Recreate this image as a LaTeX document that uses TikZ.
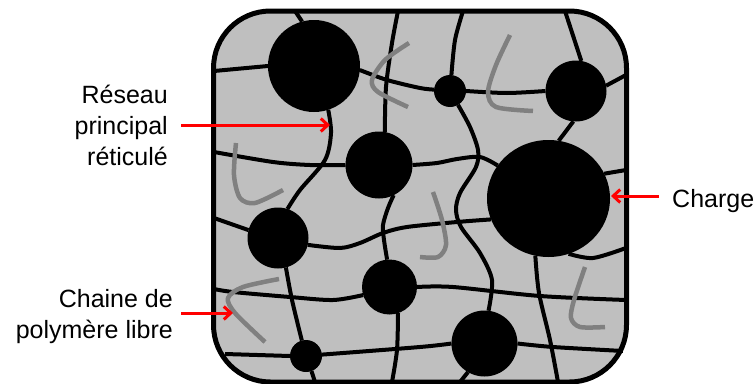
\documentclass[tikz,border=0pt]{standalone}
\usepackage{fontspec}
\setmainfont{Liberation Sans}
\usetikzlibrary{arrows.meta, shapes.geometric}

\tikzset{
    frame/.style={draw=black, fill=black!25, line width=5pt, rounded corners=57pt, minimum width=413pt, minimum height=371pt, inner sep=0pt},
    filler/.style={circle, fill=black, inner sep=0pt, outer sep=0pt, minimum size=#1},
    network/.style={draw=black, line width=4pt},
    freechain/.style={draw=black!50, line width=4.5pt},
    pointer/.style={draw=red, line width=3pt, -{Straight Barb[length=7pt, width=13pt, line width=3pt]}},
    caption/.style={align=right, inner sep=0pt, font=\fontsize{25}{31}\selectfont}
}

\begin{document}
\begin{tikzpicture}
            [x=1pt, y=-1pt]
            \useasboundingbox (0, 0) rectangle (755, 383);
            \node [frame] (box) at (420, 196.5) {};

            \node [filler=92pt] (a) at (314, 66) {};
            \node [filler=32pt] (b) at (450, 91) {};
            \node [filler=61pt] (c) at (576, 91) {};
            \node [ellipse, fill=black, inner sep=0pt, outer sep=0pt, minimum width=123pt, minimum height=117pt] (d) at (548.5, 198.5) {};
            \node [filler=67pt] (e) at (379, 165) {};
            \node [filler=61pt] (f) at (278, 238) {};
            \node [filler=55pt] (g) at (389.5, 287) {};
            \node [filler=66pt] (h) at (484.5, 343.5) {};
            \node [filler=32pt] (i) at (306, 356) {};

            \coordinate (top1) at (295, 11);
            \coordinate (top2) at (398, 11);
            \coordinate (top3) at (463, 11);
            \coordinate (top4) at (565, 11);
            \coordinate (left1) at (214, 71);
            \coordinate (left2) at (214, 152);
            \coordinate (left3) at (214, 218);
            \coordinate (left4) at (214, 289);
            \coordinate (left5) at (225, 354);
            \coordinate (right1) at (626, 75);
            \coordinate (right2) at (626, 170);
            \coordinate (right3) at (626, 248);
            \coordinate (right4) at (626, 300);
            \coordinate (right5) at (623, 351);
            \coordinate (bottom1) at (315, 382);
            \coordinate (bottom2) at (392, 382);
            \coordinate (bottom3) at (460, 382);
            \coordinate (bottom4) at (558, 382);

            \draw [network] (top1) -- (a.105);
            \draw [network] (left1) -- (a.180);
            \draw [network] plot [smooth] coordinates {(a.-5) (387, 80) (420, 88) (b.175)};
            \draw [network] plot [smooth] coordinates {(top2) (392, 43) (386, 87) (e.80)};
            \draw [network] plot [smooth] coordinates {(a.-72) (331, 133) (325, 160) (300, 190) (f.72)};
            \draw [network] plot [smooth] coordinates {(left2) (273, 162) (310, 165) (e.180)};
            \draw [network] plot [smooth] coordinates {(e.0) (437, 163) (457, 159) (480, 157) (d.147)};
            \draw [network] plot [smooth] coordinates {(top3) (455, 40) (b.85)};
            \draw [network] plot [smooth] coordinates {(b.0) (507, 93) (c.180)};
            \draw [network] plot [smooth] coordinates {(b.-60) (470, 127) (478, 150) (476, 167) (460, 193) (456, 210) (461, 227) (480, 253) (492, 280) (h.83)};
            \draw [network] (c.80) -- (top4);
            \draw [network] (c.10) -- (right1);
            \draw [network] (c.-95) -- (d.80);
            \draw [network] (d.24) -- (right2);
            \draw [network] plot [smooth] coordinates {(d.-70) (593, 258) (right3)};
            \draw [network] plot [smooth] coordinates {(d.-103) (539, 293) (550, 340) (bottom4)};
            \draw [network] plot [smooth] coordinates {(f.-13) (340, 248) (360, 243) (383, 233) (407, 227) (457, 222) (d.200)};
            \draw [network] (left3) -- (f.165);
            \draw [network] plot [smooth] coordinates {(e.-64) (388, 208) (383, 225) (384, 240) (g.95)};
            \draw [network] plot [smooth] coordinates {(f.-75) (292, 300) (i.105)};
            \draw [network] (i.-70) -- (bottom1);
            \draw [network] (left5) -- (i.180);
            \draw [network] plot [smooth] coordinates {(i.5) (420, 347) (h.180)};
            \draw [network] plot [smooth] coordinates {(h.0) (553, 347) (right5)};
            \draw [network] (h.-120) -- (bottom3);
            \draw [network] plot [smooth] coordinates {(left4) (233, 292) (290, 297) (333, 300) (g.197)};
            \draw [network] plot [smooth] coordinates {(g.0) (453, 287) (540, 296) (right4)};
            \draw [network] plot [smooth] coordinates {(g.-72) (397, 350) (bottom2)};

            \draw [freechain] plot [smooth] coordinates {(409, 43) (385, 60) (372, 80) (378, 92) (408, 107)};
            \draw [freechain] plot [smooth] coordinates {(510, 35) (496, 65) (488, 92) (496, 107) (533, 111)};
            \draw [freechain] plot [smooth] coordinates {(236, 143) (234, 175) (240, 198) (255, 203) (283, 190)};
            \draw [freechain] plot [smooth] coordinates {(279, 279) (243, 287) (228, 298) (235, 313) (265, 342)};
            \draw [freechain] plot [smooth] coordinates {(433, 192) (442, 220) (446, 245) (438, 257) (420, 257)};
            \draw [freechain] plot [smooth] coordinates {(585, 267) (574, 300) (571, 318) (580, 327) (605, 327)};

            \node [caption, anchor=east] (reseau) at (168, 125) {Réseau\\principal\\réticulé};
            \node [caption, anchor=east] (chaine) at (173, 317) {Chaine de\\polymère libre};
            \node [caption, anchor=base west] (charge) at (672, 207) {Charge};
            \coordinate (reseauTip) at (330, 125);
            \coordinate (chaineTip) at (233, 313);
            \coordinate (chargeTip) at (611, 196);

            \draw [pointer, shorten <=13pt] (reseau.east |- reseauTip) -- (reseauTip);
            \draw [pointer, shorten <=8pt] (chaine.east |- chaineTip) -- (chaineTip);
            \draw [pointer, shorten <=13pt] (charge.west |- chargeTip) -- (chargeTip);
        \end{tikzpicture}
\end{document}
